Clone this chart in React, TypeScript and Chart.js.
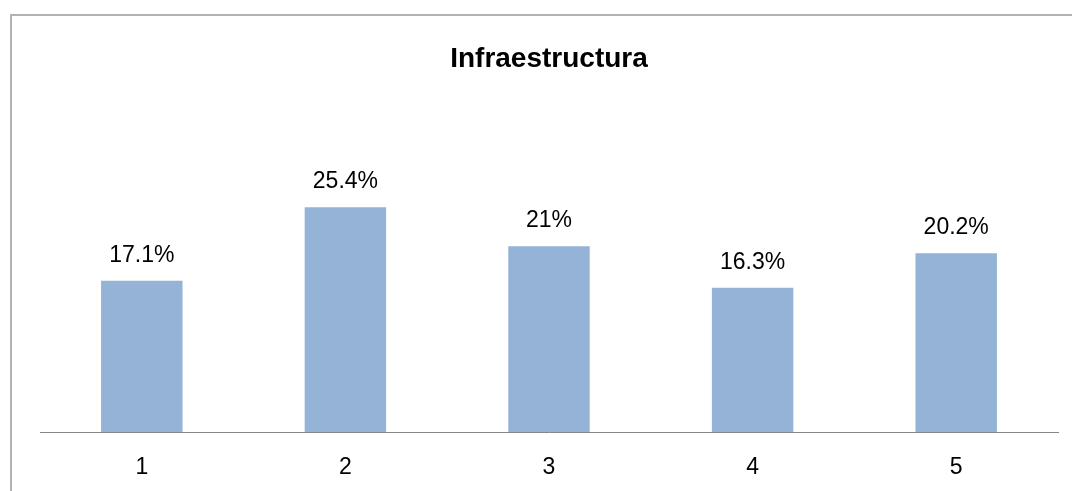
import React, { useEffect, useRef } from "react";
import { Chart, registerables } from "chart.js";

Chart.register(...registerables);

const categories = ["1", "2", "3", "4", "5"];
const values = [17.1, 25.4, 21, 16.3, 20.2];
const valueLabels = ["17.1%", "25.4%", "21%", "16.3%", "20.2%"];
const chartTitle = "Infraestructura";

const FONT = "'Liberation Sans', Arial, sans-serif";

const valueLabelPlugin = {
  id: "valueLabels",
  afterDatasetsDraw(chart: any) {
    const ctx = chart.ctx;
    const meta = chart.getDatasetMeta(0);
    ctx.save();
    ctx.font = `23px ${FONT}`;
    ctx.fillStyle = "#000000";
    ctx.textAlign = "center";
    ctx.textBaseline = "alphabetic";
    meta.data.forEach((bar: any, i: number) => {
      ctx.fillText(valueLabels[i], bar.x, bar.y - 19);
    });
    ctx.restore();
  },
};

export default function App() {
  const canvasRef = useRef<HTMLCanvasElement | null>(null);

  useEffect(() => {
    const canvas = canvasRef.current;
    if (!canvas) return;
    const chart = new Chart(canvas, {
      type: "bar",
      data: {
        labels: categories,
        datasets: [
          {
            data: values,
            backgroundColor: "#95B3D7",
            borderWidth: 0,
            barPercentage: 0.4,
            categoryPercentage: 1,
          },
        ],
      },
      options: {
        responsive: false,
        maintainAspectRatio: false,
        animation: false,
        devicePixelRatio: 1,
        layout: { padding: { left: 40, right: 14, top: 0, bottom: 0 } },
        plugins: {
          legend: { display: false },
          tooltip: { enabled: false },
          title: {
            display: true,
            text: chartTitle,
            color: "#000000",
            font: { family: FONT, size: 28, weight: "bold", lineHeight: 1.2 },
            padding: { top: 42, bottom: 91 },
          },
        },
        scales: {
          x: {
            grid: { display: false, drawTicks: false },
            border: { display: true, color: "#868686", width: 1 },
            ticks: {
              color: "#000000",
              font: { family: FONT, size: 23 },
              padding: 22,
            },
            afterFit(scale: any) {
              scale.height = 59;
            },
          },
          y: {
            display: false,
            min: 0,
            max: 30,
          },
        },
      },
      plugins: [valueLabelPlugin],
    } as any);
    return () => chart.destroy();
  }, []);

  return (
    <div
      style={{
        position: "fixed",
        left: 0,
        top: 0,
        width: 1072,
        height: 491,
        overflow: "hidden",
        background: "#ffffff",
      }}
    >
      <div
        style={{
          position: "absolute",
          left: 10,
          top: 14,
          width: 1200,
          height: 600,
          borderLeft: "2px solid #B2B2B2",
          borderTop: "2px solid #B2B2B2",
        }}
      />
      <canvas
        ref={canvasRef}
        width={1072}
        height={491}
        style={{ position: "absolute", left: 0, top: 0, display: "block" }}
      />
    </div>
  );
}
